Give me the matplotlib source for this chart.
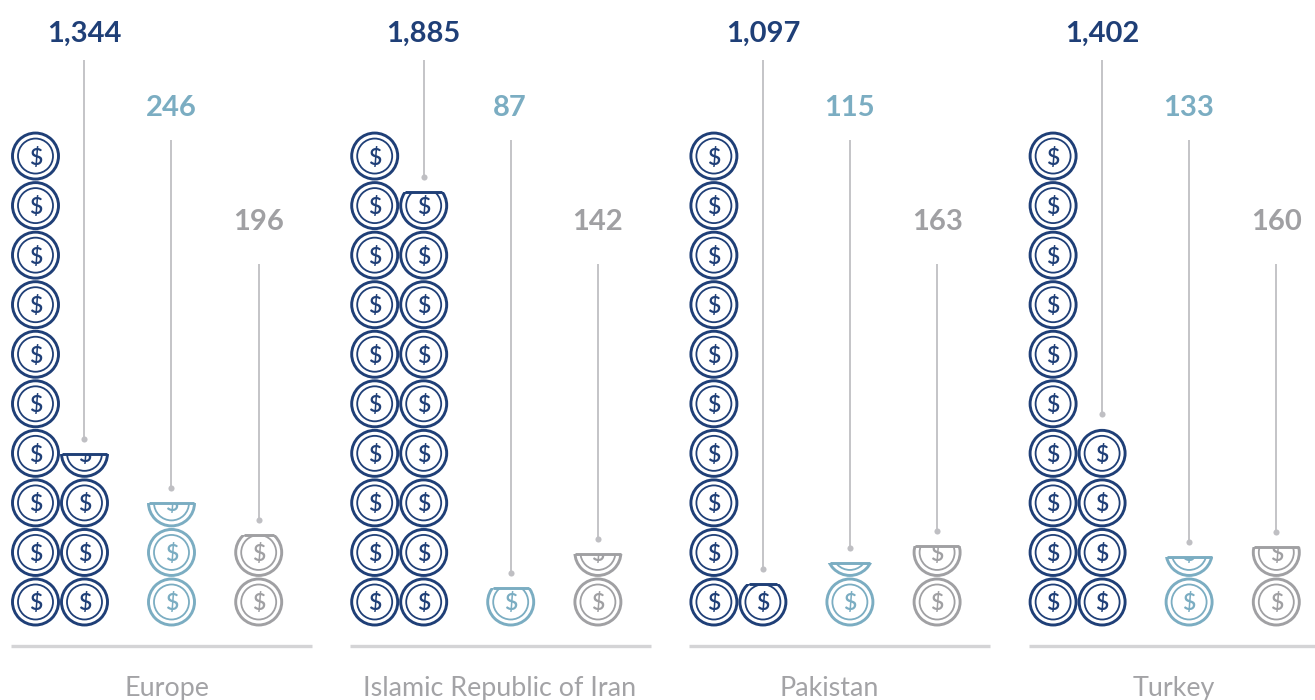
import numpy as np
import matplotlib
matplotlib.use("Agg")
import matplotlib.pyplot as plt
from matplotlib.patches import Circle, Rectangle

# one coin = 100
countries = ["Europe", "Islamic Republic of Iran", "Pakistan", "Turkey"]
first_vals = [1344, 1885, 1097, 1402]
second_vals = [246, 87, 115, 133]
third_vals = [196, 142, 163, 160]

dark = "#1F3F77"
light = "#7BADC2"
grey = "#A0A0A3"
stem_col = "#BFBFC3"
base_col = "#D4D4D6"
text_grey = "#A3A3A6"

plt.rcParams["font.family"] = ["Lato", "DejaVu Sans"]

panel_step = 339.2
name_x = [167, 500, 829, 1174]
pitch = 49.55
bottom_y = 602
r_out = 23
r_in = 17.5


def coin(ax, x, y, color, clip_top=None):
    parts = [
        Circle((x, y), r_out, fill=False, ec=color, lw=2.1),
        Circle((x, y), r_in, fill=False, ec=color, lw=1.3),
    ]
    for p in parts:
        ax.add_patch(p)
    t = ax.text(x, y, "$", color=color, fontsize=16.5, fontweight="semibold",
                ha="center", va="center_baseline")
    if clip_top is not None:
        clip = Rectangle((x - 30, clip_top), 60, 60, transform=ax.transData)
        t.set_clip_on(True)
        for p in parts + [t]:
            p.set_clip_path(clip)
        half = np.sqrt(max(r_out ** 2 - (y - clip_top) ** 2, 0))
        ax.plot([x - half, x + half], [clip_top, clip_top], color=color, lw=2.1,
                solid_capstyle="butt")


def stack(ax, x, value, color):
    # draws value/100 coins from the bottom, returns y of the top edge
    n = int(value // 100)
    frac = value / 100 - n
    for i in range(n):
        coin(ax, x, bottom_y - i * pitch, color)
    top = bottom_y - (n - 1) * pitch - r_out - 1
    if frac > 0.05:
        y = bottom_y - n * pitch
        top = y + r_out + 1 - (8 + 35 * frac)
        coin(ax, x, y, color, clip_top=top)
    return top


def stem(ax, x, y0, top):
    ax.plot([x, x], [y0, top - 15], color=stem_col, lw=1.3, solid_capstyle="butt")
    ax.plot([x], [top - 15], "o", color=stem_col, ms=4.4, mew=0)


fig = plt.figure(figsize=(13.15, 7), dpi=100)
ax = fig.add_axes([0, 0, 1, 1])
ax.set_xlim(0, 1315)
ax.set_ylim(700, 0)
ax.axis("off")

for i, name in enumerate(countries):
    off = i * panel_step
    v1, v2, v3 = first_vals[i], second_vals[i], third_vals[i]

    # dark series fills the first column with ten coins, then the second
    x1, x2 = 35.5 + off, 84.5 + off
    stack(ax, x1, min(v1, 1000), dark)
    top = stack(ax, x2, v1 - 1000, dark)
    stem(ax, x2, 60, top)
    ax.text(x2, 33.5, f"{v1:,}", color=dark, fontsize=21, fontweight="bold",
            ha="center", va="center")

    x = 171.5 + off
    top = stack(ax, x, v2, light)
    stem(ax, x, 140, top)
    ax.text(x - 0.5, 108.5, f"{v2:,}", color=light, fontsize=21, fontweight="bold",
            ha="center", va="center")

    x = 258.7 + off
    top = stack(ax, x, v3, grey)
    stem(ax, x, 264, top)
    ax.text(x, 222.5, f"{v3:,}", color=grey, fontsize=21, fontweight="bold",
            ha="center", va="center")

    ax.plot([11 + off, 312 + off], [646, 646], color=base_col, lw=2.4,
            solid_capstyle="butt")
    ax.text(name_x[i], 688.5, name, color=text_grey, fontsize=19.4, ha="center",
            va="center")

fig.savefig("out.png", dpi=100)
